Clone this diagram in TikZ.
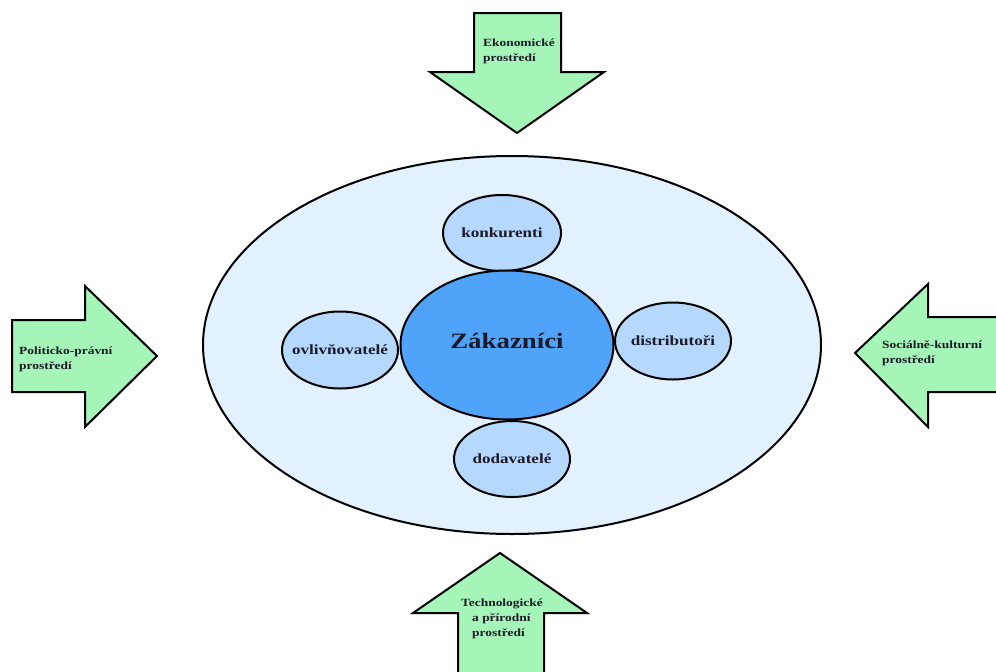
\documentclass[tikz,border=0pt]{standalone}
\usepackage{fontspec}
\setmainfont[FakeStretch=1.22]{Liberation Serif}
\usetikzlibrary{shapes.geometric}
\definecolor{envgreen}{HTML}{A6F5B8}
\definecolor{outerblue}{HTML}{E3F0FE}
\definecolor{innerblue}{HTML}{B5D8FC}
\definecolor{coreblue}{HTML}{4FA4FA}
\definecolor{inktext}{HTML}{1A1A28}
\newcommand{\fixedwidth}[1]{\makebox[0pt]{#1}}
\tikzset{
  envarrow/.style={draw=black, line width=2pt, fill=envgreen, line join=miter},
  envlabel/.style={font=\bfseries\fontsize{11}{15}\selectfont, text=inktext, align=left, inner sep=0pt, anchor=base west},
  actor/.style={ellipse, draw=black, line width=2pt, fill=innerblue, inner sep=0pt,
    font=\bfseries\fontsize{14}{16}\selectfont, text=inktext},
}
\begin{document}
\begin{tikzpicture}[x=1pt,y=-1pt]
\useasboundingbox (0,0) rectangle (996,672);

% marketing environment
\node[ellipse, draw=black, line width=2pt, fill=outerblue, minimum width=618pt, minimum height=378pt, inner sep=0pt] (env) at (512,345) {};

% actors around the customer
\node[actor, minimum width=118pt, minimum height=76pt] (konk) at (502,233) {\fixedwidth{konkurenti}};
\node[actor, minimum width=116pt, minimum height=77pt] (ovl) at (340,350) {\fixedwidth{ovlivňovatelé}};
\node[actor, minimum width=116pt, minimum height=77pt] (dist) at (673,341) {\fixedwidth{distributoři}};
\node[actor, minimum width=116pt, minimum height=76pt] (dod) at (512,459) {\fixedwidth{dodavatelé}};

% customers
\node[ellipse, draw=black, line width=2pt, fill=coreblue, minimum width=213pt, minimum height=149pt, inner sep=0pt,
  font=\bfseries\fontsize{22}{26}\selectfont, text=inktext] (zak) at (507,345) {\raisebox{8pt}{Zákazníci}};

% top arrow
\draw[envarrow] (474,13) -- (561,13) -- (561,72) -- (604,72) -- (517,133) -- (430,72) -- (474,72) -- cycle;
\node[envlabel] (eko) at (483,61) {Ekonomické\\prostředí};

% left arrow
\draw[envarrow] (12,320) -- (85,320) -- (85,286) -- (157,356) -- (85,427) -- (85,392) -- (12,392) -- cycle;
\node[envlabel] (pol) at (19,369) {Politicko-právní\\prostředí};

% right arrow
\draw[envarrow] (1000,317) -- (928,317) -- (928,284) -- (855,353) -- (928,427) -- (928,392) -- (1000,392);
\node[envlabel] (soc) at (882,363) {Sociálně-kulturní\\prostředí};

% bottom arrow
\draw[envarrow] (458,676) -- (458,613) -- (413,613) -- (500,553) -- (587,613) -- (544,613) -- (544,676);
\node[envlabel] (tech) at (461,636) {Technologické\\\hspace*{11pt}a přírodní\\\hspace*{11pt}prostředí};
\end{tikzpicture}
\end{document}
